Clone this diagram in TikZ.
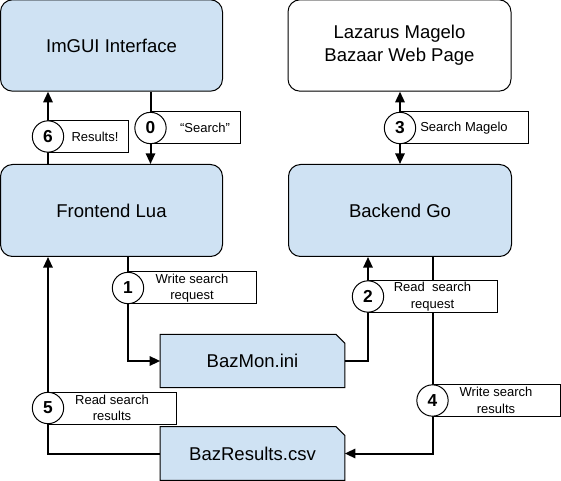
\documentclass[tikz,border=0pt]{standalone}
\usepackage{fontspec}
\setmainfont{Liberation Sans}
\usetikzlibrary{arrows.meta}
\pgfdeclarelayer{bg}
\pgfdeclarelayer{conn}
\pgfsetlayers{bg,conn,main}
\definecolor{boxblue}{HTML}{CFE2F3}
\begin{document}
\begin{tikzpicture}[x=0.75pt,y=-0.75pt,
  bigbox/.style={draw=black,line width=0.75pt,rounded corners=9pt,minimum height=68.5pt,inner sep=0pt,font=\fontsize{13.9}{17.25}\selectfont,align=center},
  filebox/.style={draw=none,minimum width=138pt,minimum height=39.5pt,inner sep=0pt,font=\fontsize{13.9}{17.25}\selectfont},
  filedraw/.style={fill=boxblue,draw=black,line width=0.75pt},
  numcirc/.style={circle,draw=black,fill=white,line width=0.75pt,minimum size=23.5pt,inner sep=0pt,font=\fontsize{13}{13}\selectfont\bfseries},
  lblbox/.style={rectangle,draw=black,fill=white,line width=0.75pt,inner sep=0pt,minimum height=23.5pt,align=center,font=\fontsize{9.75}{12.5}\selectfont},
  conn/.style={line width=1.5pt,-{Triangle[length=8pt,width=7pt]}},
  dconn/.style={line width=1.5pt,{Triangle[length=8pt,width=7pt]}-{Triangle[length=8pt,width=7pt]}}]
\useasboundingbox (0,0) rectangle (561,481);

% main boxes
\node[bigbox,fill=boxblue,minimum width=166.5pt] (imgui) at (111.5,45.5) {ImGUI Interface};
\node[bigbox,fill=white,minimum width=167.25pt] (lazarus) at (399.5,45.5) {Lazarus Magelo\\Bazaar Web Page};
\node[bigbox,fill=boxblue,minimum width=166.5pt,minimum height=69pt] (frontend) at (111.5,210.5) {Frontend Lua};
\node[bigbox,fill=boxblue,minimum width=167.25pt,minimum height=69pt] (backend) at (400,210.5) {Backend Go};

% file boxes
\node[filebox] (bazmon) at (252.5,361) {BazMon.ini};
\node[filebox,minimum height=39.75pt] (bazresults) at (252.5,453.5) {BazResults.csv};
\begin{pgfonlayer}{bg}
\draw[filedraw] (bazmon.north west) -- ([xshift=-6.5pt]bazmon.north east) -- ([yshift=-6.5pt]bazmon.north east) -- (bazmon.south east) -- (bazmon.south west) -- cycle;
\draw[filedraw] (bazresults.north west) -- ([xshift=-6.5pt]bazresults.north east) -- ([yshift=-6.5pt]bazresults.north east) -- (bazresults.south east) -- (bazresults.south west) -- cycle;
\end{pgfonlayer}

% label boxes
\node[lblbox,minimum width=60pt] (l6) at (88,136.5) {\hspace*{10.5pt}Results!};
\node[lblbox,minimum width=66.75pt,minimum height=24pt] (l0) at (195.5,128) {\hspace*{14.25pt}“Search”};
\node[lblbox,minimum width=96pt,minimum height=24pt] (l3) at (464,128) {Search Magelo};
\node[lblbox,minimum width=96pt,minimum height=24pt] (l1) at (192,288) {Write search\\request};
\node[lblbox,minimum width=96.75pt] (l2) at (432.5,296.5) {Read\ \ search\\request};
\node[lblbox,minimum width=96pt] (l4) at (496,400.5) {Write search\\results};
\node[lblbox,minimum width=96pt,minimum height=24pt] (l5) at (112,408) {Read search\\results};

% number circles
\node[numcirc] (c6) at (48,136.5) {6};
\node[numcirc] (c0) at (150.5,128) {0};
\node[numcirc] (c3) at (400,128) {3};
\node[numcirc] (c1) at (128,288) {1};
\node[numcirc] (c2) at (368,296.5) {2};
\node[numcirc] (c4) at (432.5,400.5) {4};
\node[numcirc] (c5) at (48,408) {5};

% connectors
\begin{pgfonlayer}{conn}
\draw[conn] (frontend.north -| c6) -- (imgui.south -| c6);
\draw[conn] (imgui.south -| c0) -- (frontend.north -| c0);
\draw[dconn] (lazarus.south -| c3) -- (backend.north -| c3);
\draw[conn] (frontend.south -| c1) |- (bazmon.west);
\draw[conn] (bazmon.east) -| (backend.south -| c2);
\draw[conn] (backend.south -| c4) |- (bazresults.east);
\draw[conn] (bazresults.west) -| (frontend.south -| c5);
\end{pgfonlayer}
\end{tikzpicture}
\end{document}
